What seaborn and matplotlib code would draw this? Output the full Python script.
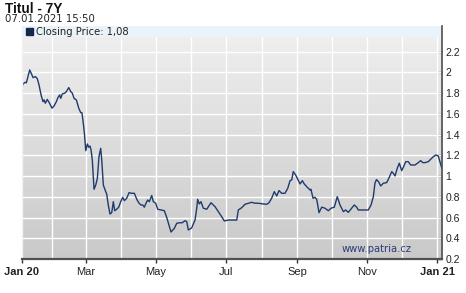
import numpy as np
import pandas as pd
import matplotlib
matplotlib.use("Agg")
import matplotlib.pyplot as plt
from matplotlib.colors import LinearSegmentedColormap
from matplotlib.patches import Rectangle
import seaborn as sns

# ---- data (days since 2020-01-01, closing price) ----
days = [3.9, 5.4, 7.4, 8.3, 11.2, 12.6, 14.1, 16.1, 17.8, 19.3, 21.3, 22.8, 23.7, 24.8,
        26.5, 28.6, 30.6, 32.4, 34.4, 35.9, 37.3, 38.2, 39.6, 41.7, 43.1, 45.2, 46.9,
        48.3, 49.8, 51.8, 53.9, 55.6, 56.7, 58.2, 58.9, 60.0, 61.4, 62.6, 63.7, 64.6,
        65.7, 67.2, 68.7, 70.1, 71.5, 73.0, 73.9, 75.3, 76.8, 78.2, 79.6, 81.1, 82.6,
        84.0, 85.2, 86.9, 88.7, 90.4, 92.2, 93.6, 95.6, 97.7, 100.0, 102.3, 104.4,
        106.4, 108.1, 109.6, 111.0, 112.4, 113.9, 115.3, 117.4, 118.8, 120.9, 122.6,
        125.5, 128.4, 130.5, 134.2, 137.1, 139.2, 142.0, 144.0, 146.4, 147.9, 149.3,
        152.2, 155.1, 156.6, 157.4, 158.8, 160.3, 162.3, 165.3, 169.0, 172.5, 175.4,
        178.3, 180.6, 184.1, 191.4, 192.8, 195.7, 198.6, 201.5, 204.4, 207.3, 210.2,
        214.5, 217.5, 219.5, 221.8, 224.1, 226.2, 228.2, 230.5, 233.4, 235.8, 237.8,
        239.3, 240.6, 242.7, 244.5, 246.5, 248.5, 250.2, 252.3, 255.2, 256.0, 257.8,
        259.5, 261.0, 261.9, 263.0, 265.4, 268.2, 271.1, 273.5, 276.3, 278.9, 281.3,
        284.2, 286.2, 288.5, 291.5, 293.7, 295.8, 297.2, 305.9, 308.3, 310.3, 311.7,
        313.0, 314.8, 316.7, 319.0, 321.9, 324.2, 326.3, 327.7, 329.2, 331.1, 332.9,
        335.0, 336.4, 338.5, 340.7, 342.8, 346.6, 349.4, 351.5, 353.3, 355.3, 358.1,
        360.2, 362.5, 364.8, 366.8, 368.2, 369.8]
price = [1.838, 1.89, 1.905, 1.90, 2.024, 1.99, 1.95, 1.96, 1.94, 1.88, 1.773, 1.718, 1.735,
         1.703, 1.74, 1.70, 1.655, 1.677, 1.718, 1.76, 1.783, 1.75, 1.793, 1.80, 1.815,
         1.854, 1.815, 1.80, 1.75, 1.735, 1.655, 1.612, 1.61, 1.477, 1.40, 1.245, 1.31,
         1.278, 1.29, 1.252, 1.155, 0.873, 0.914, 0.979, 1.188, 1.268, 1.155, 0.914,
         0.866, 0.827, 0.721, 0.634, 0.647, 0.753, 0.666, 0.68, 0.70, 0.753, 0.795,
         0.763, 0.786, 0.84, 0.834, 0.834, 0.776, 0.738, 0.721, 0.721, 0.70, 0.738,
         0.769, 0.753, 0.813, 0.753, 0.738, 0.68, 0.673, 0.666, 0.60, 0.46, 0.496,
         0.545, 0.55, 0.55, 0.57, 0.56, 0.48, 0.50, 0.576, 0.69, 0.776, 0.731, 0.753,
         0.69, 0.68, 0.743, 0.705, 0.657, 0.608, 0.567, 0.576, 0.576, 0.673, 0.695,
         0.728, 0.738, 0.747, 0.738, 0.738, 0.731, 0.728, 0.743, 0.786, 0.85, 0.808,
         0.86, 0.834, 0.834, 0.882, 0.956, 0.963, 1.043, 1.01, 0.969, 0.924, 0.956,
         0.924, 0.898, 0.866, 0.873, 0.786, 0.795, 0.776, 0.721, 0.647, 0.70, 0.69,
         0.666, 0.69, 0.70, 0.801, 0.721, 0.657, 0.673, 0.65, 0.69, 0.721, 0.70, 0.673,
         0.673, 0.721, 0.801, 0.931, 0.966, 0.946, 0.905, 0.931, 0.937, 0.989, 1.043,
         1.027, 1.001, 1.075, 1.124, 1.052, 1.085, 1.139, 1.139, 1.107, 1.107, 1.13,
         1.149, 1.13, 1.13, 1.139, 1.162, 1.187, 1.204, 1.194, 1.139, 1.08]

tick_days = [4.5, 60, 121, 182, 244, 305, 366]
tick_labels = ["Jan 20", "Mar", "May", "Jul", "Sep", "Nov", "Jan 21"]
y_ticks = [0.2, 0.4, 0.6, 0.8, 1.0, 1.2, 1.4, 1.6, 1.8, 2.0, 2.2]
title = "Titul - 7Y"
subtitle = "07.01.2021 15:50"
legend_text = "Closing Price: 1,08"
watermark = "www.patria.cz"

# ---- figure ----
sns.set_theme(style="white")
plt.rcParams["font.family"] = ["Liberation Sans", "DejaVu Sans"]

W, H = 466, 293
fig = plt.figure(figsize=(W / 100, H / 100), dpi=100)
fig.patch.set_facecolor("white")
ax_left, ax_right, ax_top, ax_bottom = 22, 442.5, 26, 259
ax = fig.add_axes([ax_left / W, 1 - ax_bottom / H, (ax_right - ax_left) / W,
                   (ax_bottom - ax_top) / H])

# gradient background
cmap = LinearSegmentedColormap.from_list("bg", ["#f0f0f0", "#c9c9c9"])
ax.imshow(np.linspace(0, 1, 256).reshape(-1, 1), cmap=cmap, aspect="auto",
          extent=[0, 1, 0, 1], transform=ax.transAxes, zorder=0, origin="upper")

df = pd.DataFrame({"day": days, "price": price})
sns.lineplot(data=df, x="day", y="price", ax=ax, color="#1f3a6d", linewidth=1.0,
             zorder=4, estimator=None, sort=False)

ymax = 2.2 + (51.7 - ax_top) / 103.6
ax.set_xlim(4.5, 370.5)
ax.set_ylim(0.2, ymax)

# monthly vertical gridlines
months = pd.date_range("2020-02-01", "2021-01-01", freq="MS")
for m in months:
    d = (m - pd.Timestamp("2020-01-01")).days
    ax.axvline(d, color="white", lw=1.0, zorder=1)
for v in [0.4, 0.6, 0.8, 1.0, 1.2, 1.4, 1.6, 1.8, 2.0, 2.2, 2.4]:
    ax.axhline(v, color="white", lw=1.0, zorder=1)

# legend bar
bar_h = 11 / (ax_bottom - ax_top)
ax.add_patch(Rectangle((0, 1 - bar_h), 1, bar_h, transform=ax.transAxes,
                       facecolor="#eaf3f9", edgecolor="none", zorder=5))

# axes styling
ax.set_xlabel("")
ax.set_ylabel("")
ax.set_xticks(tick_days)
ax.set_xticklabels(tick_labels)
for lbl in ax.get_xticklabels():
    if lbl.get_text().startswith("Jan"):
        lbl.set_fontweight("bold")
ax.tick_params(axis="x", direction="out", length=3, width=1, color="#333333",
               labelsize=8, labelcolor="#222222", pad=2.5, bottom=True)
ax.yaxis.tick_right()
ax.set_yticks(y_ticks)
ax.set_yticklabels([f"{v:g}" for v in y_ticks])
ax.tick_params(axis="y", direction="in", length=3, width=1, color="#333333",
               labelsize=7.5, labelcolor="#222222", pad=2, right=True, left=False)

ax.spines["top"].set_visible(False)
ax.spines["left"].set_color("#f2f2f2")
ax.spines["left"].set_linewidth(1)
ax.spines["bottom"].set_color("#505050")
ax.spines["bottom"].set_linewidth(1.6)
ax.spines["right"].set_color("#505050")
ax.spines["right"].set_linewidth(1.2)
for s in ax.spines.values():
    s.set_zorder(6)

# texts
fig.text(5 / W, 1 - 13 / H, title, fontsize=9.8, fontweight="bold", color="#111111",
         va="baseline", ha="left")
fig.text(5 / W, 1 - 22.5 / H, subtitle, fontsize=7.3, color="#222222",
         va="baseline", ha="left", family=["DejaVu Sans"])
fig.patches.append(Rectangle((25.5 / W, 1 - 35 / H), 7 / W, 7 / H, transform=fig.transFigure,
                             facecolor="#14284f", edgecolor="#14284f", figure=fig))
fig.text(36 / W, 1 - 35.3 / H, legend_text, fontsize=7.2, color="#222222",
         va="baseline", ha="left", zorder=10, family=["DejaVu Sans"])
fig.text(342 / W, 1 - 251.5 / H, watermark, fontsize=7.2, color="#2b3c78",
         va="baseline", ha="left", zorder=10, family=["DejaVu Sans"])

fig.savefig("out.png", dpi=100)
